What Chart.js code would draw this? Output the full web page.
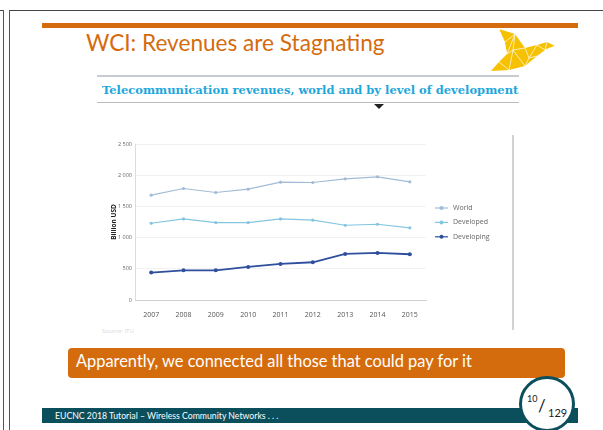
<!DOCTYPE html>
<html>
<head>
<meta charset="utf-8">
<script src="https://cdn.jsdelivr.net/npm/chart.js@4/dist/chart.umd.min.js"></script>
<style>
  html, body { margin: 0; padding: 0; background: #fff; }
  body { width: 603px; height: 430px; position: relative; overflow: hidden; font-family: "Lato", "DejaVu Sans", sans-serif; }
  .abs { position: absolute; }
  #chartBox { position: absolute; left: 100px; top: 130px; width: 412px; height: 205px; }
</style>
</head>
<body>
<!-- slide frame -->
<div class="abs" style="left:0;top:10px;width:4px;height:1px;background:#444"></div>
<div class="abs" style="left:9px;top:10px;width:594px;height:1px;background:#444"></div>
<div class="abs" style="left:3px;top:10px;width:1px;height:420px;background:#555"></div>
<div class="abs" style="left:9px;top:10px;width:1px;height:420px;background:#555"></div>

<!-- header -->
<div class="abs" style="left:42px;top:23px;width:536px;height:5px;background:#d46c0e"></div>
<div class="abs" style="left:86px;top:29px;font-size:22.6px;color:#d46c0e;white-space:nowrap;">WCI: Revenues are Stagnating</div>
<svg class="abs" style="left:485px;top:26px" width="75" height="48" viewBox="0 0 75 48">
  <polygon points="14,3 30,8 40,22 52,19 62,16 70,20 60,24 52,30 40,40 24,44 6,45 14,36 22,28 20,16" fill="#f6c100"/>
  <g stroke="#fff" stroke-width="0.7" fill="none">
    <path d="M14,3 L22,28 L30,8 M20,16 L30,8 L28,24 L40,22 M22,28 L28,24 L40,40 M28,24 L24,44 M14,36 L24,44 M40,22 L44,32 L52,19 M44,32 L52,30 M40,40 L44,32 M52,19 L60,24 M62,16 L60,24 L70,20"/>
  </g>
</svg>

<!-- embedded chart header -->
<div class="abs" style="left:97px;top:75px;width:422px;height:2px;background:#c8ccd0"></div>
<div class="abs" style="left:102px;top:83px;font-family:'DejaVu Serif',serif;font-weight:bold;font-size:11.5px;color:#1ea7dc;white-space:nowrap;">Telecommunication revenues, world and by level of development</div>
<div class="abs" style="left:97px;top:102px;width:422px;height:1px;background:#b8bcc0"></div>
<div class="abs" style="left:374px;top:104px;width:0;height:0;border-left:5px solid transparent;border-right:5px solid transparent;border-top:5px solid #222"></div>
<div class="abs" style="left:512px;top:135px;width:2px;height:195px;background:#d2d2d2"></div>
<div class="abs" style="left:102px;top:327px;font-size:6px;color:#d8d8d8;font-family:'Open Sans',sans-serif;">Source: ITU</div>

<div id="chartBox"><canvas id="myChart"></canvas></div>

<!-- callout -->
<div class="abs" style="left:68px;top:348px;width:497px;height:30px;background:#d46c0e;border-radius:4px;"></div>
<div class="abs" style="left:76px;top:351px;font-size:16.4px;color:#fff;white-space:nowrap;">Apparently, we connected all those that could pay for it</div>

<!-- footer -->
<div class="abs" style="left:42px;top:408px;width:536px;height:15px;background:#0b4f5c"></div>
<div class="abs" style="left:55px;top:410px;font-size:8.7px;color:#fff;white-space:nowrap;">EUCNC 2018 Tutorial – Wireless Community Networks . . .</div>
<div class="abs" style="left:519px;top:376px;width:56px;height:56px;border-radius:50%;border:3px solid #0b4f5c;background:#fff;box-sizing:border-box;"></div>
<div class="abs" style="left:527px;top:393px;font-size:9px;color:#222;">10</div>
<div class="abs" style="left:538px;top:395px;font-size:17px;color:#222;">/</div>
<div class="abs" style="left:548px;top:406px;font-size:11px;color:#222;">129</div>

<script>
const years = ["2007", "2008", "2009", "2010", "2011", "2012", "2013", "2014", "2015"];
const world = [1680, 1787, 1723, 1776, 1889, 1883, 1942, 1974, 1894];
const developed = [1230, 1300, 1241, 1241, 1300, 1279, 1198, 1214, 1156];
const developing = [439, 476, 476, 530, 578, 605, 738, 754, 733];
const yTickValues = [0, 500, 1000, 1500, 2000, 2500];

const seriesColors = ["#a3bcd5", "#84c5e0", "#2f4e9e"];

// legend drawn to the right of the plot, like the original infographic
const sideLegend = {
    id: "sideLegend",
    afterDraw(chart) {
        const c = chart.ctx;
        const area = chart.chartArea;
        c.save();
        c.font = "7px 'Open Sans', sans-serif";
        c.textBaseline = "middle";
        chart.data.datasets.forEach((ds, i) => {
            const y = area.top + 64 + i * 14.4;
            const x = area.right + 9;
            c.strokeStyle = ds.borderColor;
            c.lineWidth = 1.2;
            c.beginPath();
            c.moveTo(x, y);
            c.lineTo(x + 13, y);
            c.stroke();
            c.fillStyle = ds.borderColor;
            c.beginPath();
            c.arc(x + 6.5, y, 2, 0, Math.PI * 2);
            c.fill();
            c.fillStyle = "#666";
            c.fillText(ds.label, x + 18, y);
        });
        c.restore();
    }
};

const ctx = document.getElementById("myChart").getContext("2d");

const myChart = new Chart(ctx, {
    type: "line",
    data: {
        labels: years,
        datasets: [
            { label: "World", data: world, borderColor: seriesColors[0], backgroundColor: seriesColors[0], borderWidth: 1.2, pointRadius: 1.6, pointBorderWidth: 0 },
            { label: "Developed", data: developed, borderColor: seriesColors[1], backgroundColor: seriesColors[1], borderWidth: 1.2, pointRadius: 1.6, pointBorderWidth: 0 },
            { label: "Developing", data: developing, borderColor: seriesColors[2], backgroundColor: seriesColors[2], borderWidth: 1.8, pointRadius: 2, pointBorderWidth: 0 }
        ]
    },
    options: {
        responsive: true,
        maintainAspectRatio: false,
        animation: false,
        layout: { padding: { left: 10, right: 86, top: 14, bottom: 15 } },
        scales: {
            x: {
                offset: true,
                grid: { display: false },
                border: { color: "#cfcfcf" },
                ticks: { color: "#555", font: { size: 7, family: "'Open Sans', sans-serif" }, padding: 3, maxRotation: 0 },
                afterFit: (s) => { s.height = 20; }
            },
            y: {
                min: 0,
                max: 2500,
                afterBuildTicks: (s) => { s.ticks = yTickValues.map(v => ({ value: v })); },
                grid: { color: "rgba(0,0,0,0.05)", drawTicks: false },
                border: { color: "#dcdcdc" },
                ticks: {
                    color: "#666",
                    font: { size: 5.5, family: "'Open Sans', sans-serif" },
                    padding: 3,
                    callback: (v) => v >= 1000 ? Math.floor(v / 1000) + " " + String(v % 1000).padStart(3, "0") : String(v)
                },
                title: { display: true, text: "Billion USD", color: "#222", font: { size: 6.5, weight: "bold", family: "'Open Sans', sans-serif" }, padding: 0 },
                afterFit: (s) => { s.width = 25; }
            }
        },
        plugins: {
            legend: { display: false },
            tooltip: { enabled: false }
        }
    },
    plugins: [sideLegend]
});
</script>
</body>
</html>
